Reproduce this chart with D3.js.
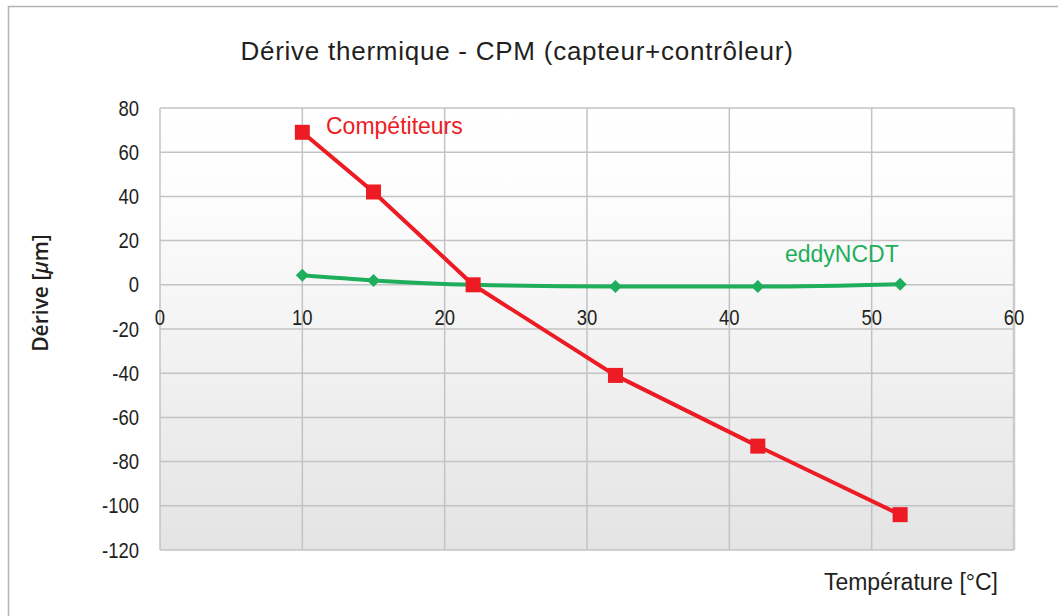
<!DOCTYPE html>
<html>
<head>
<meta charset="utf-8">
<script src="https://cdn.jsdelivr.net/npm/d3@7"></script>
<style>
  body { margin: 0; background: #fff; }
  svg { display: block; }
  text { fill: #231f20; }
</style>
</head>
<body>
<svg width="1058" height="616"></svg>
<script>
// Data

const temperatures = [10, 15, 22, 32, 42, 52]
const competitors = [69, 42, 0, -41, -73, -104]
const eddyNCDT = [4.3, 2, 0, -0.8, -0.8, 0.3]

const xTicks = [0, 10, 20, 30, 40, 50, 60]
const yTicks = [80, 60, 40, 20, 0, -20, -40, -60, -80, -100, -120]

const title = 'Dérive thermique - CPM (capteur+contrôleur)'

// Layout

const svg = d3.select('svg')
const plot = {left: 160, right: 1014, top: 108, bottom: 550}

const x = d3.scaleLinear().domain([0, 60]).range([plot.left, plot.right])
const y = d3.scaleLinear().domain([-120, 80]).range([plot.bottom, plot.top])

const defs = svg.append('defs')
const grad = defs.append('linearGradient')
    .attr('id', 'bg')
    .attr('x1', 0).attr('y1', 0)
    .attr('x2', 0).attr('y2', 1)
grad.append('stop').attr('offset', '0%').attr('stop-color', '#ffffff')
grad.append('stop').attr('offset', '20%').attr('stop-color', '#fdfdfd')
grad.append('stop').attr('offset', '100%').attr('stop-color', '#e4e4e5')

// Outer frame
svg.append('rect')
    .attr('x', 8.5).attr('y', 6.5)
    .attr('width', 1070).attr('height', 630)
    .attr('fill', 'none')
    .attr('stroke', '#b4b4b6')
    .attr('stroke-width', 1.5)

svg.append('text')
    .attr('x', 517).attr('y', 60)
    .attr('text-anchor', 'middle')
    .style('font', '26px "Liberation Sans", Arial, sans-serif')
    .style('letter-spacing', '0.75px')
    .text(title)

// Plot background
svg.append('rect')
    .attr('x', plot.left).attr('y', plot.top)
    .attr('width', plot.right - plot.left)
    .attr('height', plot.bottom - plot.top)
    .attr('fill', 'url(#bg)')

// Grid
svg.append('g')
  .selectAll('line').data(yTicks).join('line')
    .attr('x1', plot.left).attr('x2', plot.right)
    .attr('y1', d => y(d)).attr('y2', d => y(d))
    .attr('stroke', '#c3c3c5')
    .attr('stroke-width', 1.5)

svg.append('g')
  .selectAll('line').data(xTicks).join('line')
    .attr('x1', d => x(d)).attr('x2', d => x(d))
    .attr('y1', plot.top).attr('y2', plot.bottom)
    .attr('stroke', d => d == 60 ? '#cbcbcd' : '#c3c3c5')
    .attr('stroke-width', d => d == 60 ? 2.5 : 1.5)

// Ticks (condensed look: squeeze horizontally)
const tickFont = '21.5px "Liberation Sans", Arial, sans-serif'
const squeeze = 'scale(0.86,1)'

svg.append('g')
  .selectAll('text').data(yTicks).join('text')
    .attr('transform', d => `translate(${plot.left - 21},${y(d)}) ${squeeze}`)
    .attr('dy', '0.35em')
    .attr('text-anchor', 'end')
    .style('font', tickFont)
    .text(d => d)

svg.append('g')
  .selectAll('text').data(xTicks).join('text')
    .attr('transform', d => `translate(${x(d)},${y(0) + 40}) ${squeeze}`)
    .attr('text-anchor', 'middle')
    .style('font', tickFont)
    .text(d => d)

// Axis titles
const yTitle = svg.append('text')
    .attr('transform', `translate(48, 293) rotate(-90)`)
    .attr('text-anchor', 'middle')
    .style('font', '600 21px "Open Sans", "Noto Sans", sans-serif')
yTitle.append('tspan').text('Dérive [')
yTitle.append('tspan').style('font-style', 'italic').text('µ')
yTitle.append('tspan').text('m]')

svg.append('text')
    .attr('x', 998).attr('y', 590)
    .attr('text-anchor', 'end')
    .style('font', '23px "Liberation Sans", Arial, sans-serif')
    .text('Température [°C]')

// Series

const red = '#ed1c24'
const green = '#1fae5b'

const eddyPts = temperatures.map((t, i) => [t, eddyNCDT[i]])
const compPts = temperatures.map((t, i) => [t, competitors[i]])

svg.append('path')
    .datum(eddyPts)
    .attr('fill', 'none')
    .attr('stroke', green)
    .attr('stroke-width', 4)
    .attr('d', d3.line().x(d => x(d[0])).y(d => y(d[1])).curve(d3.curveMonotoneX))

svg.append('g')
  .selectAll('path').data(eddyPts).join('path')
    .attr('transform', d => `translate(${x(d[0])},${y(d[1])})`)
    .attr('d', 'M0,-6.5L6.5,0L0,6.5L-6.5,0Z')
    .attr('fill', green)

svg.append('path')
    .datum(compPts)
    .attr('fill', 'none')
    .attr('stroke', red)
    .attr('stroke-width', 4)
    .attr('d', d3.line().x(d => x(d[0])).y(d => y(d[1])))

svg.append('g')
  .selectAll('rect').data(compPts).join('rect')
    .attr('x', d => x(d[0]) - 7.5)
    .attr('y', d => y(d[1]) - 7.5)
    .attr('width', 15).attr('height', 15)
    .attr('fill', red)

// Series labels
svg.append('text')
    .attr('x', 326).attr('y', 134)
    .style('font', '23px "Liberation Sans", Arial, sans-serif')
    .style('fill', red)
    .text('Compétiteurs')

svg.append('text')
    .attr('x', 785).attr('y', 262)
    .style('font', '23px "Liberation Sans", Arial, sans-serif')
    .style('fill', green)
    .text('eddyNCDT')
</script>
</body>
</html>
